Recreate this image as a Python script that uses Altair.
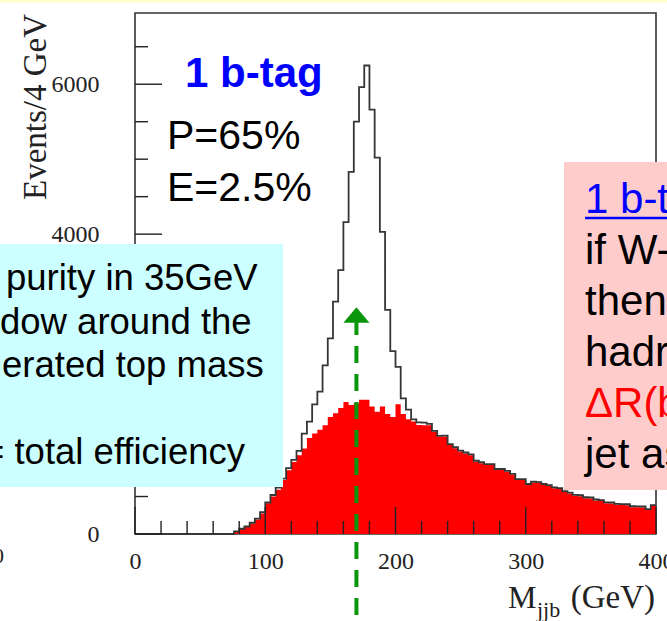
import altair as alt
import pandas as pd

# ---------------- data ----------------
bin_width = 4
bin_starts = list(range(0, 400, bin_width))  # 0..396 GeV

red_counts = [0] * 19 + [
    30, 65, 95, 140, 195, 275,
    410, 500, 590, 720, 850, 960, 1050, 1140, 1280, 1340,
    1390, 1450, 1560, 1610, 1680, 1760, 1720, 1745, 1790, 1790,
    1700, 1630, 1700, 1600, 1560,
    1730, 1600, 1530, 1500, 1455, 1450, 1450, 1365, 1300, 1300,
    1190, 1145, 1100, 1075, 1050, 965, 945, 920, 920, 855,
    855, 830, 790, 720, 720,
    655, 685, 680, 655, 640, 610, 600, 560, 540, 510,
    505, 478, 475, 448, 440, 410, 408, 390, 387, 385,
    358, 356, 355, 320, 372]

total_counts = [0] * 19 + [
    35, 70, 100, 150, 205, 290,
    420, 520, 620, 740, 880, 990, 1110, 1340, 1500, 1730,
    1900, 2250, 2610, 3100, 3520, 4160, 4830, 5500, 5960, 6250,
    5660, 5020, 4030, 2990, 2440,
    2230, 1810, 1660, 1530, 1490, 1485, 1470, 1375, 1310, 1312,
    1200, 1157, 1112, 1087, 1062, 977, 957, 932, 932, 867,
    867, 842, 802, 732, 732,
    667, 697, 692, 667, 652, 622, 612, 572, 552, 522,
    517, 490, 487, 460, 452, 422, 420, 402, 399, 397,
    370, 368, 367, 332, 384]

x_major = [0, 100, 200, 300, 400]
x_minor = [v for v in range(20, 400, 20) if v % 100 != 0]
y_major = [0, 2000, 4000, 6000]
y_minor = [v for v in range(500, 7000, 500) if v % 2000 != 0]
top_mass = 170

cyan_lines = ["purity in 35GeV", "dow around the", "erated top mass", "", "= total efficiency"]
pink_lines = ["1 b-t", "if W-", "then", "hadr", "\u0394R(b", "jet as"]
pink_colors = ["#0000FF", "#000000", "#000000", "#000000", "#FF0000", "#000000"]

# ---------------- tables ----------------
edges = bin_starts + [400]
hist = pd.DataFrame({
    "m": edges,
    "red": red_counts + [red_counts[-1]],
    "tot": total_counts + [total_counts[-1]],
})
one = pd.DataFrame({"k": [0]})

W, H = 521, 521
SERIF = "Liberation Serif"
SANS = "Liberation Sans"

XS = alt.Scale(domain=[0, 400], nice=False, zero=False)
YS = alt.Scale(domain=[0, 6950], nice=False)
X_AXIS = alt.Axis(values=x_major, ticks=False, domain=False, grid=False, title=None,
                  labelFont=SERIF, labelFontSize=24, labelColor="#222", format="d",
                  labelPadding=15, labelFlush=False, labelOverlap=False)
Y_AXIS = alt.Axis(values=y_major, ticks=False, domain=False, grid=False, title=None,
                  labelFont=SERIF, labelFontSize=24, labelColor="#222", format="d",
                  labelPadding=36, labelOverlap=False)


def X(field):
    return alt.X(field, type="quantitative", scale=XS, axis=X_AXIS)


def Y(field):
    return alt.Y(field, type="quantitative", scale=YS, axis=Y_AXIS)


def txt(s, x, y, size, color="#000000", font=SANS, weight="normal", align="left",
        baseline="alphabetic", angle=0):
    return alt.Chart(one).mark_text(text=s, fontSize=size, color=color, font=font,
                                    fontWeight=weight, align=align, baseline=baseline,
                                    angle=angle).encode(x=alt.value(x), y=alt.value(y))


def box(x1, x2, y1, y2, color):
    return alt.Chart(one).mark_rect(color=color).encode(
        x=alt.value(x1), x2=alt.value(x2), y=alt.value(y1), y2=alt.value(y2))


layers = []
# thin yellow band at the very top of the slide
layers.append(box(-135, 532, -13, -10, "#FFFFD2"))

base = alt.Chart(hist)
layers.append(base.mark_area(interpolate="step-after", color="#FF0000").encode(
    x=X("m"), y=Y("red")))
layers.append(base.mark_line(interpolate="step-after", color="#363636", strokeWidth=1.8).encode(
    x=X("m"), y=Y("tot")))

# inward ticks
for vals, ln in ((x_major, 27), (x_minor, 13)):
    layers.append(alt.Chart(pd.DataFrame({"t": vals})).mark_rule(color="#222", strokeWidth=1.4).encode(
        x=X("t"), y=alt.value(H), y2=alt.value(H - ln)))
for vals, ln in ((y_major, 27), (y_minor, 13)):
    layers.append(alt.Chart(pd.DataFrame({"t": vals})).mark_rule(color="#222", strokeWidth=1.4).encode(
        y=Y("t"), x=alt.value(0), x2=alt.value(ln)))

# green dashed arrow at the generated top mass
green = "#0A960A"
layers.append(alt.Chart(one).mark_rule(color=green, strokeWidth=4, strokeDash=[17, 11]).encode(
    x=alt.X(datum=top_mass, type="quantitative", scale=XS, axis=X_AXIS),
    y=alt.value(305), y2=alt.value(608)))
layers.append(alt.Chart(one).mark_point(shape="M-1,0.6L0,-0.6L1,0.6Z", filled=True, size=676,
                                        color=green, opacity=1).encode(
    x=alt.X(datum=top_mass, type="quantitative", scale=XS, axis=X_AXIS),
    y=alt.value(302)))

# cyan annotation box
layers.append(box(-135, 148, 231, 474, "#CCFFFF"))
cyan_x = [-129, -135, -133, 0, -152]
for i, line in enumerate(cyan_lines):
    if line:
        layers.append(txt(line, cyan_x[i], 277 + 43.5 * i, 36.5))

# pink annotation box
layers.append(box(429, 540, 149, 477, "#FFCCCC"))
for i, line in enumerate(pink_lines):
    layers.append(txt(line, 450, 200 + 51 * i, 42, color=pink_colors[i]))
layers.append(alt.Chart(one).mark_rule(color="#0000FF", strokeWidth=2.5).encode(
    x=alt.value(450), x2=alt.value(540), y=alt.value(205)))

# in-plot labels
layers.append(txt("1 b-tag", 50, 74, 42, color="#0000FF", weight="bold"))
layers.append(txt("P=65%", 32, 136, 41))
layers.append(txt("E=2.5%", 32, 188, 41))

# axis titles
layers.append(txt("Events/4 GeV", -99, 94, 33, color="#222", font=SERIF, align="center",
                  baseline="middle", angle=270))
layers.append(txt("M", 373, 595, 32, color="#222", font=SERIF))
layers.append(txt("jjb", 402, 604, 22, color="#222", font=SERIF))
layers.append(txt("(GeV)", 520, 595, 33, color="#222", font=SERIF, align="right"))
# fragment of a neighbouring label at the left edge
layers.append(txt("0", -131, 550, 22, color="#222", font=SERIF, align="right"))

chart = alt.layer(*layers).properties(
    width=W, height=H,
    autosize=alt.AutoSizeParams(type="none"),
    padding={"left": 135, "top": 13, "right": 11, "bottom": 87},
    background="white",
).configure_view(stroke="#333333", strokeWidth=1.6)

chart.save("out.html", embed_options={"renderer": "svg", "actions": False})
